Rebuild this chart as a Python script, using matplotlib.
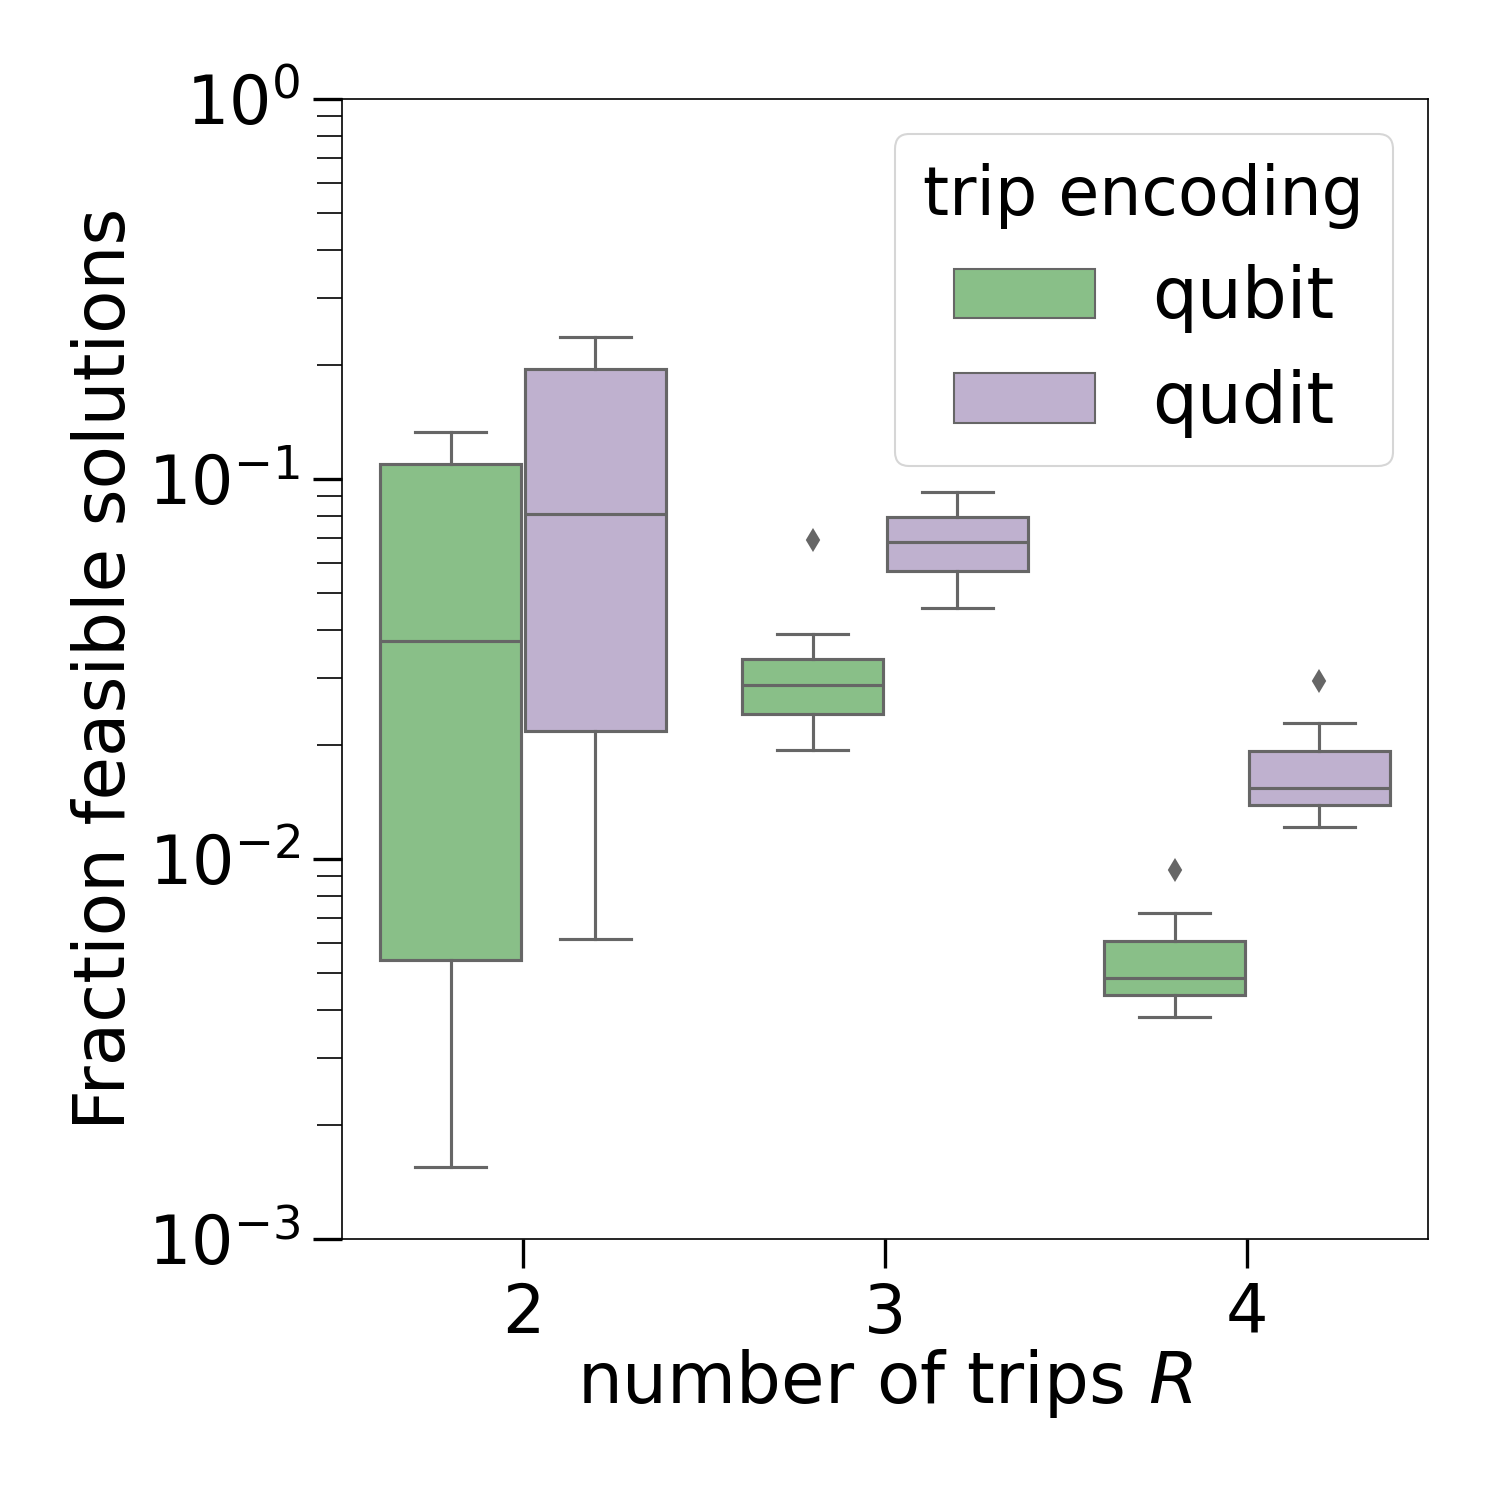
import numpy as np
import matplotlib
matplotlib.use("Agg")
import matplotlib.pyplot as plt
from matplotlib.patches import Patch

# box statistics (log scale), per trip count R
trips = [2, 3, 4]
encodings = ["qubit", "qudit"]

qubit_whislo = [0.00155, 0.0194, 0.00384]
qubit_q1 = [0.00542, 0.0241, 0.00439]
qubit_med = [0.0375, 0.0287, 0.00486]
qubit_q3 = [0.1094, 0.0336, 0.00608]
qubit_whishi = [0.133, 0.0391, 0.00721]
qubit_fliers = [[], [0.0691], [0.00935]]

qudit_whislo = [0.00615, 0.0458, 0.01214]
qudit_q1 = [0.0217, 0.0573, 0.01387]
qudit_med = [0.0809, 0.0683, 0.01538]
qudit_q3 = [0.195, 0.0794, 0.0192]
qudit_whishi = [0.236, 0.0924, 0.0228]
qudit_fliers = [[], [], [0.0294]]

colors = ["#89bf88", "#bfb1cf"]
edge = "#666666"

plt.rcParams['font.size'] = 32

fig = plt.figure(figsize=(10, 10), dpi=150)
ax = fig.add_axes([0.228, 0.174, 0.724, 0.76])


def make_stats(lo, q1, med, q3, hi, fl):
    return [dict(whislo=a, q1=b, med=c, q3=d, whishi=e, fliers=f)
            for a, b, c, d, e, f in zip(lo, q1, med, q3, hi, fl)]


groups = [
    make_stats(qubit_whislo, qubit_q1, qubit_med, qubit_q3, qubit_whishi, qubit_fliers),
    make_stats(qudit_whislo, qudit_q1, qudit_med, qudit_q3, qudit_whishi, qudit_fliers),
]
offsets = [-0.2, 0.2]
x = np.arange(len(trips))

for stats, off, col in zip(groups, offsets, colors):
    ax.bxp(stats, positions=x + off, widths=0.39, patch_artist=True,
           boxprops=dict(facecolor=col, edgecolor=edge, linewidth=1.5),
           medianprops=dict(color=edge, linewidth=1.5),
           whiskerprops=dict(color=edge, linewidth=1.5),
           capprops=dict(color=edge, linewidth=1.5),
           capwidths=0.195,
           flierprops=dict(marker="d", markerfacecolor=edge, markeredgecolor=edge,
                           markersize=7, linestyle="none"),
           manage_ticks=False)

ax.set_yscale("log")
ax.set_ylim(1e-3, 1)
ax.set_xlim(-0.5, 2.5)
ax.set_xticks(x)
ax.set_xticklabels([str(t) for t in trips])

ax.tick_params(axis="both", which="major", length=14, width=1.6, labelsize=32, pad=6)
ax.tick_params(axis="y", which="minor", length=12, width=0.8)
for s in ax.spines.values():
    s.set_linewidth(0.8)

ax.set_xlabel("number of trips $R$", fontsize=34, labelpad=0)
ax.set_ylabel("Fraction feasible solutions", fontsize=34)

handles = [Patch(facecolor=c, edgecolor=edge, linewidth=1) for c in colors]
ax.legend(handles, encodings, title="trip encoding", fontsize=34, title_fontsize=32,
          loc="upper right", handlelength=2.0, handleheight=0.7, handletextpad=0.8,
          labelspacing=0.5, borderpad=0.4, fancybox=True, framealpha=0.8)

fig.savefig("out.png", dpi=150)
